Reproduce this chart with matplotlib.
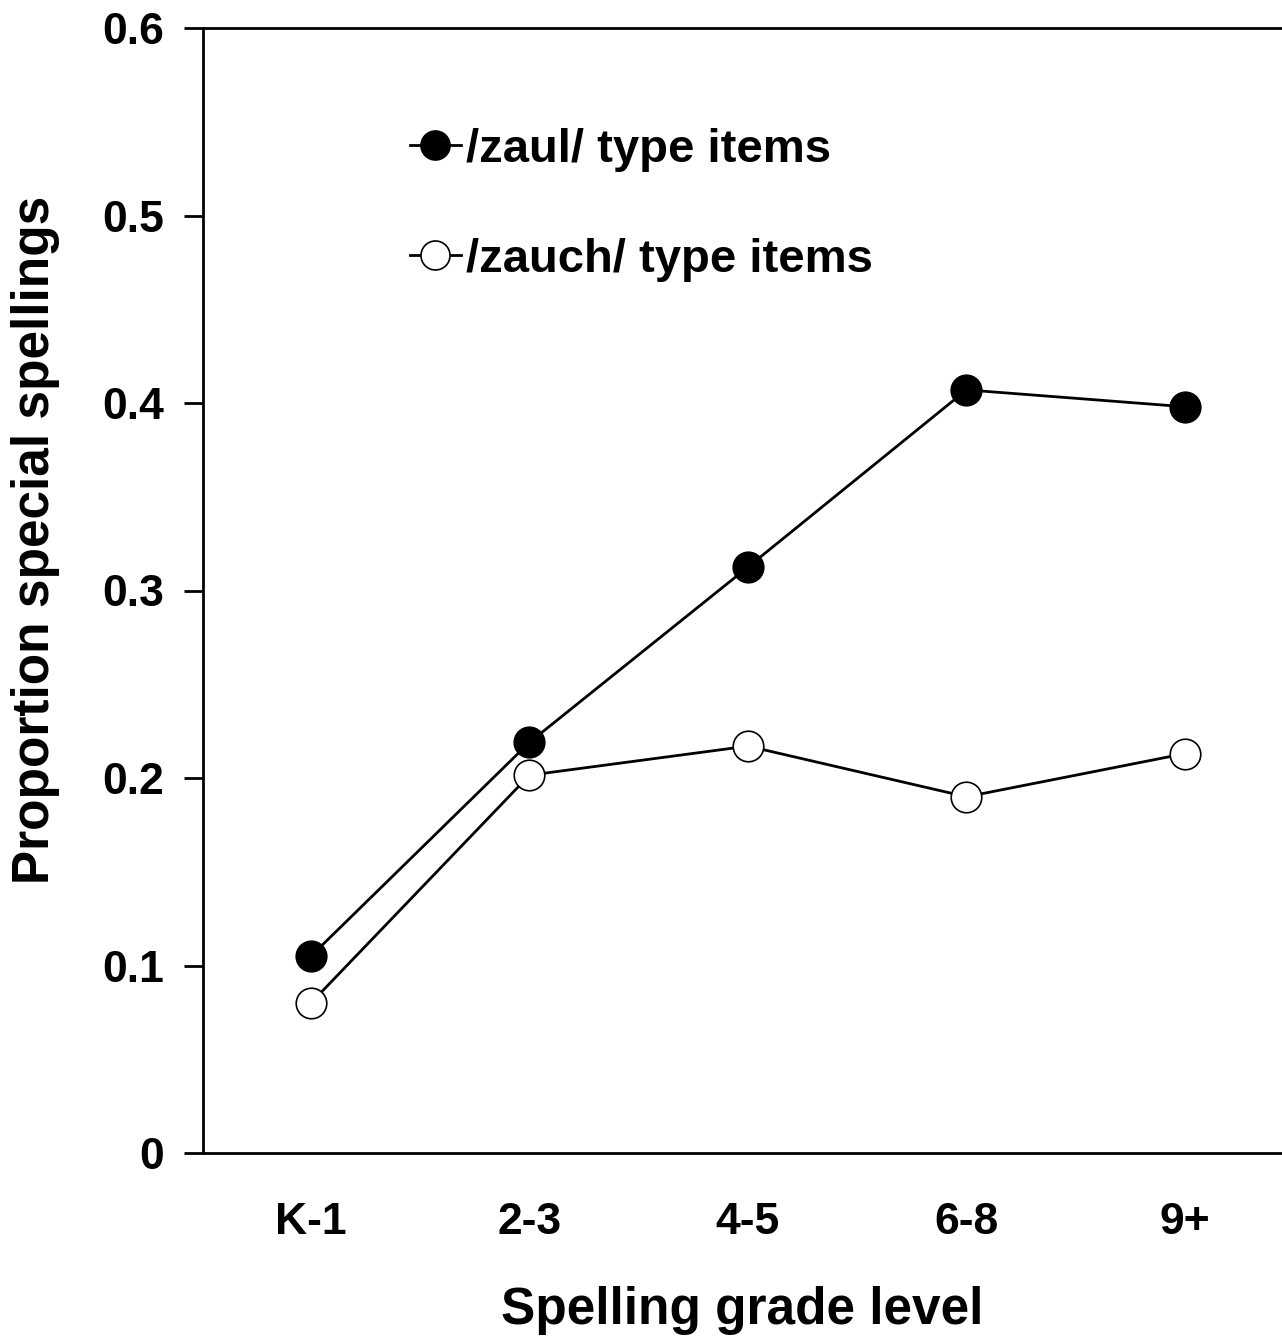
import numpy as np
import matplotlib.pyplot as plt

plt.rcParams['font.family'] = ['Liberation Sans', 'DejaVu Sans']
plt.rcParams['font.weight'] = 'bold'

grades = ['K-1', '2-3', '4-5', '6-8', '9+']
zaul = [0.105, 0.219, 0.3125, 0.407, 0.398]
zauch = [0.080, 0.2015, 0.217, 0.190, 0.213]

fig = plt.figure(figsize=(12.82, 13.38), dpi=100)
ax = fig.add_axes([203/1282, 1 - 1153/1338, 1 - 203/1282, (1153 - 28)/1338])

x = np.arange(len(grades))
ax.plot(x, zaul, '-o', color='black', lw=2, ms=22, mfc='black', mec='black',
        mew=1.2, label='/zaul/ type items')
ax.plot(x, zauch, '-o', color='black', lw=2, ms=22, mfc='white', mec='black',
        mew=1.2, label='/zauch/ type items')

ax.set_xlim(-0.494, 4.444)
ax.set_ylim(0, 0.6)
ax.set_xticks(x)
ax.set_xticklabels(grades)
ax.set_yticks([0, 0.1, 0.2, 0.3, 0.4, 0.5, 0.6])
ax.set_yticklabels(['0', '0.1', '0.2', '0.3', '0.4', '0.5', '0.6'])
ax.tick_params(axis='y', direction='out', length=14, width=2, labelsize=32, pad=14)
ax.tick_params(axis='x', length=0, labelsize=32, pad=35)

for s in ['left', 'bottom', 'top']:
    ax.spines[s].set_linewidth(2)
ax.spines['right'].set_visible(False)

ax.set_xlabel('Spelling grade level', fontsize=37, fontweight='bold', labelpad=31)
ax.set_ylabel('Proportion special spellings', fontsize=37, fontweight='bold')
ax.yaxis.set_label_coords(-0.1325, 0.545)

ax.legend(loc='upper left', bbox_to_anchor=(0.152, 0.949), frameon=False,
          fontsize=34, handlelength=1.1, handletextpad=0.1, labelspacing=1.4,
          markerscale=0.95)

fig.savefig('out.png', dpi=100)
